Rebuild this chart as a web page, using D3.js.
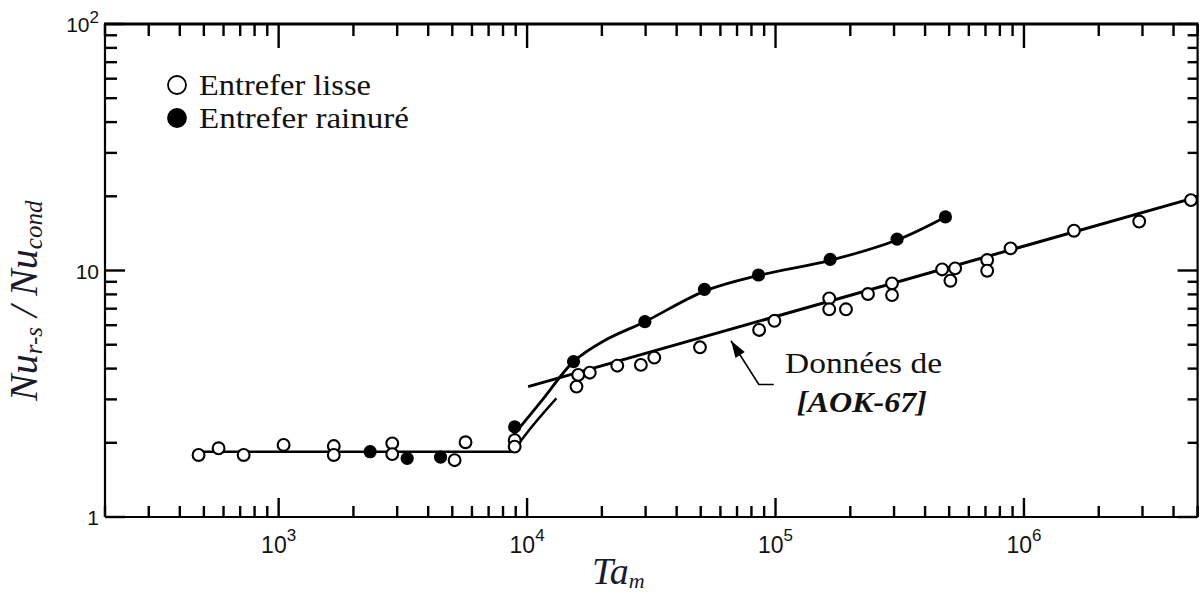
<!DOCTYPE html>
<html><head><meta charset="utf-8">
<script src="https://cdn.jsdelivr.net/npm/d3@7"></script>
<style>body{margin:0;background:#fff}</style>
</head><body>
<svg id="c" width="1201" height="594"></svg>
<script>
// ---- data ----
const openX = [476, 573, 723, 1047, 1667, 1667, 2866, 2866, 5108, 5653, 8913, 8913,
  15810, 16060, 17880, 23070, 28710, 32510, 49650, 85900, 99000,
  164500, 164500, 192100, 235600, 294400, 294400,
  468400, 528400, 505800, 711200, 711200, 883400, 1590000, 2910000, 4700000];
const openY = [1.785, 1.90, 1.785, 1.96, 1.94, 1.785, 1.99, 1.80, 1.70, 2.01, 2.05, 1.93,
  3.38, 3.77, 3.85, 4.11, 4.14, 4.43, 4.88, 5.74, 6.25,
  7.71, 6.96, 6.96, 8.03, 8.87, 7.95,
  10.1, 10.2, 9.09, 11.03, 9.98, 12.3, 14.5, 15.8, 19.3];
const filledX = [2335, 3291, 4484, 8913, 15380, 29800, 51760, 85400, 166000, 308500, 483000];
const filledY = [1.84, 1.73, 1.75, 2.32, 4.27, 6.2, 8.39, 9.59, 11.1, 13.4, 16.5];
// fitted curves
const openFitX = [476, 8800, 9490, 13120];
const openFitY = [1.84, 1.84, 2.05, 3.03];
const filledFitX = [8650, 11500, 15380, 20500, 29800, 51800, 85400, 166000, 308000, 483000];
const filledFitY = [2.1, 2.98, 4.27, 5.2, 6.2, 8.25, 9.55, 11.0, 13.3, 16.5];
const aokX = [10100, 5000000];
const aokY = [3.38, 19.9];
// ticks & labels
const xTickValues = [1e3, 1e4, 1e5, 1e6];
const xTickExps = ["3", "4", "5", "6"];
const yTickValues = [1, 10, 100];
const yTickBase = ["1", "10", "10"];
const yTickExps = ["", "", "2"];
const legendLabels = ["Entrefer lisse", "Entrefer rainuré"];
const annotLines = ["Données de", "[AOK-67]"];

// ---- chart ----
const svg = d3.select("#c");
const L = 105, R = 1197.6, T = 24, B = 517;
const x = d3.scaleLog().domain([200, 5e6]).range([L, R]);
const y = d3.scaleLog().domain([1, 100]).range([B, T]);
const serif = "'Liberation Serif','Times New Roman',serif";
const sans = "'Liberation Sans',Arial,sans-serif";

// ticks
const isMajor = v => Math.abs(Math.log10(v) - Math.round(Math.log10(v))) < 1e-9;
const tg = svg.append("g").attr("stroke", "#000").attr("stroke-width", 2.4);
x.ticks().forEach(v => {
  const px = x(v), maj = isMajor(v);
  tg.append("line").attr("x1", px).attr("x2", px).attr("y1", B).attr("y2", B - (maj ? 19 : 11));
  tg.append("line").attr("x1", px).attr("x2", px).attr("y1", T).attr("y2", T + (maj ? 24 : 12));
});
y.ticks().forEach(v => {
  const py = y(v), maj = isMajor(v);
  tg.append("line").attr("y1", py).attr("y2", py).attr("x1", L).attr("x2", L + (maj ? 20 : 12));
  tg.append("line").attr("y1", py).attr("y2", py).attr("x1", R).attr("x2", R - (maj ? 20 : 10));
});
// frame
svg.append("line").attr("x1", L).attr("x2", R).attr("y1", B).attr("y2", B).attr("stroke", "#000").attr("stroke-width", 2.2);
svg.append("line").attr("x1", L - 1).attr("x2", R + 1).attr("y1", T).attr("y2", T).attr("stroke", "#000").attr("stroke-width", 3.2);
svg.append("line").attr("x1", L).attr("x2", L).attr("y1", T).attr("y2", B).attr("stroke", "#000").attr("stroke-width", 2.2);
svg.append("line").attr("x1", R).attr("x2", R).attr("y1", T).attr("y2", B).attr("stroke", "#000").attr("stroke-width", 2.2);

// tick labels
xTickValues.forEach((v, i) => {
  const t = svg.append("text").attr("x", x(v)).attr("y", 553).attr("text-anchor", "middle")
    .attr("font-family", sans).attr("font-size", 23).attr("fill", "#111");
  t.append("tspan").text("10");
  t.append("tspan").attr("dy", -12).attr("font-size", 17).text(xTickExps[i]);
});
yTickValues.forEach((v, i) => {
  const t = svg.append("text").attr("x", 99).attr("y", y(v) + 8).attr("text-anchor", "end")
    .attr("font-family", sans).attr("font-size", 21).attr("fill", "#111");
  t.append("tspan").text(yTickBase[i]);
  if (yTickExps[i]) t.append("tspan").attr("dy", -9).attr("font-size", 17).text(yTickExps[i]);
});

// axis titles
const xt = svg.append("text").attr("x", 592).attr("y", 584).attr("font-family", serif)
  .attr("font-style", "italic").attr("font-size", 38).attr("fill", "#1a1a2a");
xt.append("tspan").text("Ta");
xt.append("tspan").attr("dy", 4).attr("font-size", 22).text("m");
const yt = svg.append("text").attr("transform", "translate(37,401) rotate(-90)")
  .attr("font-family", serif).attr("font-style", "italic").attr("font-size", 40).attr("fill", "#1a1a2a");
yt.append("tspan").text("Nu");
yt.append("tspan").attr("dy", 5).attr("font-size", 25).text("r-s");
yt.append("tspan").attr("dy", -5).text(" / Nu");
yt.append("tspan").attr("dy", 5).attr("font-size", 25).text("cond");

// lines
const line = d3.line().x(d => x(d[0])).y(d => y(d[1]));
const zip = (a, b) => a.map((v, i) => [v, b[i]]);
svg.append("path").attr("d", line.curve(d3.curveMonotoneX)(zip(openFitX, openFitY)))
  .attr("fill", "none").attr("stroke", "#000").attr("stroke-width", 2.4);
svg.append("path").attr("d", line.curve(d3.curveCatmullRom.alpha(0.5))(zip(filledFitX, filledFitY)))
  .attr("fill", "none").attr("stroke", "#000").attr("stroke-width", 2.8);
svg.append("path").attr("d", line.curve(d3.curveLinear)(zip(aokX, aokY)))
  .attr("fill", "none").attr("stroke", "#000").attr("stroke-width", 3);

// points
svg.append("g").selectAll("circle").data(zip(openX, openY)).join("circle")
  .attr("cx", d => x(d[0])).attr("cy", d => y(d[1])).attr("r", 5.9)
  .attr("fill", "#fff").attr("stroke", "#000").attr("stroke-width", 2.1);
svg.append("g").selectAll("circle").data(zip(filledX, filledY)).join("circle")
  .attr("cx", d => x(d[0])).attr("cy", d => y(d[1])).attr("r", 6.6).attr("fill", "#000");

// legend
const lg = svg.append("g");
[[85, "#fff"], [118, "#000"]].forEach((s, i) => {
  lg.append("circle").attr("cx", 177).attr("cy", s[0]).attr("r", 9).attr("fill", s[1])
    .attr("stroke", "#000").attr("stroke-width", 1.8);
  lg.append("text").attr("x", 199).attr("y", s[0] + 10).attr("font-family", serif)
    .attr("font-size", 30).attr("fill", "#111")
    .attr("textLength", i === 0 ? 172 : 210).attr("lengthAdjust", "spacingAndGlyphs")
    .text(legendLabels[i]);
});

// annotation arrow and text
const tip = [x(66200), y(5.19)], elbow = [x(85640), y(3.45)], endp = [x(98400), y(3.45)];
const ang = Math.atan2(tip[1] - elbow[1], tip[0] - elbow[0]);
svg.append("path").attr("d", `M${endp[0]},${endp[1]}L${elbow[0]},${elbow[1]}L${tip[0]},${tip[1]}`)
  .attr("fill", "none").attr("stroke", "#000").attr("stroke-width", 1.6);
const ah = 17, aw = 5.5;
const bx = tip[0] - ah * Math.cos(ang), by = tip[1] - ah * Math.sin(ang);
svg.append("path").attr("d",
  `M${tip[0]},${tip[1]}L${bx + aw * Math.sin(ang)},${by - aw * Math.cos(ang)}L${bx - aw * Math.sin(ang)},${by + aw * Math.cos(ang)}Z`)
  .attr("fill", "#000");
svg.append("text").attr("x", x(109200)).attr("y", y(3.84)).attr("font-family", serif)
  .attr("font-size", 29).attr("fill", "#111").attr("textLength", 157).attr("lengthAdjust", "spacingAndGlyphs")
  .text(annotLines[0]);
svg.append("text").attr("x", x(121900)).attr("y", y(2.67)).attr("font-family", serif)
  .attr("font-size", 29).attr("font-weight", "bold").attr("font-style", "italic").attr("fill", "#111")
  .attr("textLength", 130).attr("lengthAdjust", "spacingAndGlyphs")
  .text(annotLines[1]);
</script>
</body></html>
